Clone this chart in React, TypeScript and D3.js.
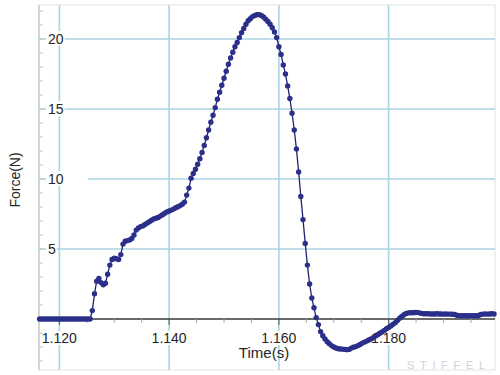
import React from "react";
import * as d3 from "d3";

// Sampled data logger record: first sample time and sample interval (s)
const sampleStart = 1.1164;
const sampleInterval = 0.0004;

// Force readings (N), one per sample
const forceN = [
  0, 0, 0, 0, 0, 0, 0, 0, 0, 0, 0, 0, 0, 0, 0, 0, 0, 0, 0, 0, 0, 0, 0, 0,
  0.6, 1.8, 2.7, 2.9, 2.6, 2.45, 2.55, 3.2, 3.85, 4.25, 4.35, 4.3, 4.25, 4.6,
  5.35, 5.55, 5.6, 5.65, 5.75, 6.0, 6.35, 6.5, 6.6, 6.65, 6.75, 6.85, 6.95,
  7.05, 7.15, 7.2, 7.25, 7.35, 7.45, 7.55, 7.65, 7.72, 7.78, 7.85, 7.95, 8.02,
  8.1, 8.2, 8.35, 8.85, 9.35,
  10.05, 10.4, 10.7, 11.05, 11.45, 11.9, 12.4, 12.95, 13.5, 14.05, 14.55, 15.1,
  15.7, 16.2, 16.7, 17.2, 17.7, 18.2, 18.65, 19.05, 19.45, 19.75, 20.1, 20.45,
  20.75, 21.05, 21.3, 21.45, 21.6, 21.68, 21.74, 21.74, 21.68, 21.57, 21.42,
  21.25, 21.05, 20.8, 20.5,
  20.1, 19.45, 18.9, 18.15, 17.5, 16.65, 15.75, 14.7, 13.5, 12.15, 10.5, 8.75,
  7.1, 5.4, 3.85, 2.5, 1.5, 0.8, 0.1, -0.4,
  -0.9, -1.2, -1.42, -1.62, -1.76, -1.9, -2.0, -2.07, -2.12, -2.14, -2.15, -2.17,
  -2.19, -2.17, -2.08, -2.02, -1.97, -1.9, -1.82, -1.72, -1.65, -1.58, -1.5,
  -1.42, -1.33, -1.22, -1.12, -1.02, -0.92, -0.82, -0.7, -0.6, -0.5, -0.38,
  -0.26, -0.1, 0.05, 0.18, 0.3, 0.4, 0.44, 0.45, 0.45, 0.46, 0.47, 0.44, 0.4,
  0.38,
  0.37, 0.37, 0.36, 0.36, 0.36, 0.37, 0.36, 0.36, 0.35, 0.36, 0.35, 0.35, 0.34,
  0.33, 0.27, 0.24, 0.24, 0.23, 0.24, 0.23, 0.24, 0.24, 0.23, 0.24, 0.25, 0.33,
  0.35, 0.36, 0.35, 0.36, 0.37, 0.36,
];

const yTickValues = [5, 10, 15, 20];
const xTickValues = [1.12, 1.14, 1.16, 1.18];
const xTickLabels = ["1.120", "1.140", "1.160", "1.180"];
const xLabel = "Time(s)";
const yLabel = "Force(N)";
const watermark = "STIFFEL";

export default function App() {
  const W = 500;
  const H = 375;
  const left = 39;
  const right = 495;
  const top = 5;
  const bottom = 370;
  const font = "'Liberation Sans', Arial, sans-serif";

  const x = d3.scaleLinear().domain([1.11629, 1.19938]).range([left, right]);
  const y = d3.scaleLinear().domain([-3.643, 22.43]).range([bottom, top]);

  const pts = forceN.map((f, i) => ({ t: sampleStart + i * sampleInterval, f }));
  const line = d3
    .line<{ t: number; f: number }>()
    .x((d) => x(d.t))
    .y((d) => y(d.f));

  const yMinor = d3.range(-3, 23);
  const xMinor = d3.range(0, 16).map((i) => 1.12 + i * 0.005);

  const gridColor = "#a9d5e2";
  const dotColor = "#2a2f8a";

  return (
    <svg
      width={W}
      height={H}
      style={{ position: "fixed", left: 0, top: 0, background: "#fff" }}
      fontFamily={font}
    >
      <rect x={0} y={0} width={W} height={H} fill="#fff" />
      {/* frame */}
      <rect
        x={left}
        y={top}
        width={right - left}
        height={bottom - top}
        fill="none"
        stroke="#e2e2e2"
        strokeWidth={1}
      />
      {/* grid */}
      {yTickValues.map((v) => (
        <line
          key={"gy" + v}
          x1={left}
          x2={right}
          y1={y(v)}
          y2={y(v)}
          stroke={gridColor}
          strokeWidth={1.6}
        />
      ))}
      {xTickValues.map((v) => (
        <line
          key={"gx" + v}
          x1={x(v)}
          x2={x(v)}
          y1={top}
          y2={bottom}
          stroke={gridColor}
          strokeWidth={1.6}
        />
      ))}
      {/* y tick labels */}
      {yTickValues.map((v) => {
        const label = String(v);
        const w = v === 10 ? 42 : label.length * 7.8 + 3;
        return (
          <g key={"yl" + v}>
            <rect x={left + 7} y={y(v) - 8} width={w} height={15} fill="#fff" />
            <text x={left + 9} y={y(v) + 5} fontSize={14} fill="#262626">
              {label}
            </text>
          </g>
        );
      })}
      {/* x tick labels */}
      {xTickValues.map((v, i) => (
        <g key={"xl" + v}>
          <rect x={x(v) - 19} y={y(0) + 12} width={38} height={14} fill="#fff" />
          <text
            x={x(v)}
            y={y(0) + 24}
            fontSize={14}
            textAnchor="middle"
            fill="#262626"
          >
            {xTickLabels[i]}
          </text>
        </g>
      ))}
      {/* zero line */}
      <line x1={left} x2={right} y1={y(0)} y2={y(0)} stroke="#3a3a3a" strokeWidth={1.3} />
      {/* x minor ticks */}
      {xMinor.map((v) => {
        const major = xTickValues.some((m) => Math.abs(m - v) < 1e-6);
        return (
          <line
            key={"xt" + v}
            x1={x(v)}
            x2={x(v)}
            y1={y(0)}
            y2={y(0) + (major ? 6 : 4)}
            stroke={major ? "#555" : "#aaa"}
            strokeWidth={1}
          />
        );
      })}
      {/* y axis & ticks */}
      <line x1={left} x2={left} y1={top} y2={bottom} stroke="#c4c4c4" strokeWidth={1.2} />
      {yMinor.map((v) => (
        <line
          key={"yt" + v}
          x1={left}
          x2={left + 4}
          y1={y(v)}
          y2={y(v)}
          stroke="#c4c4c4"
          strokeWidth={1}
        />
      ))}
      {/* data */}
      <path d={line(pts) || ""} fill="none" stroke="#1f2370" strokeWidth={1.3} />
      {pts.map((d, i) => (
        <circle key={"p" + i} cx={x(d.t)} cy={y(d.f)} r={2.7} fill={dotColor} />
      ))}
      {/* axis titles */}
      <text x={264} y={358} fontSize={15} textAnchor="middle" fill="#262626">
        {xLabel}
      </text>
      <text
        transform={`translate(20,180) rotate(-90)`}
        fontSize={14}
        textAnchor="middle"
        fill="#262626"
      >
        {yLabel}
      </text>
      {/* watermark */}
      <text
        x={407}
        y={369}
        fontSize={11}
        fill="#d2d2d2"
        textLength={78}
        lengthAdjust="spacing"
      >
        {watermark}
      </text>
    </svg>
  );
}
